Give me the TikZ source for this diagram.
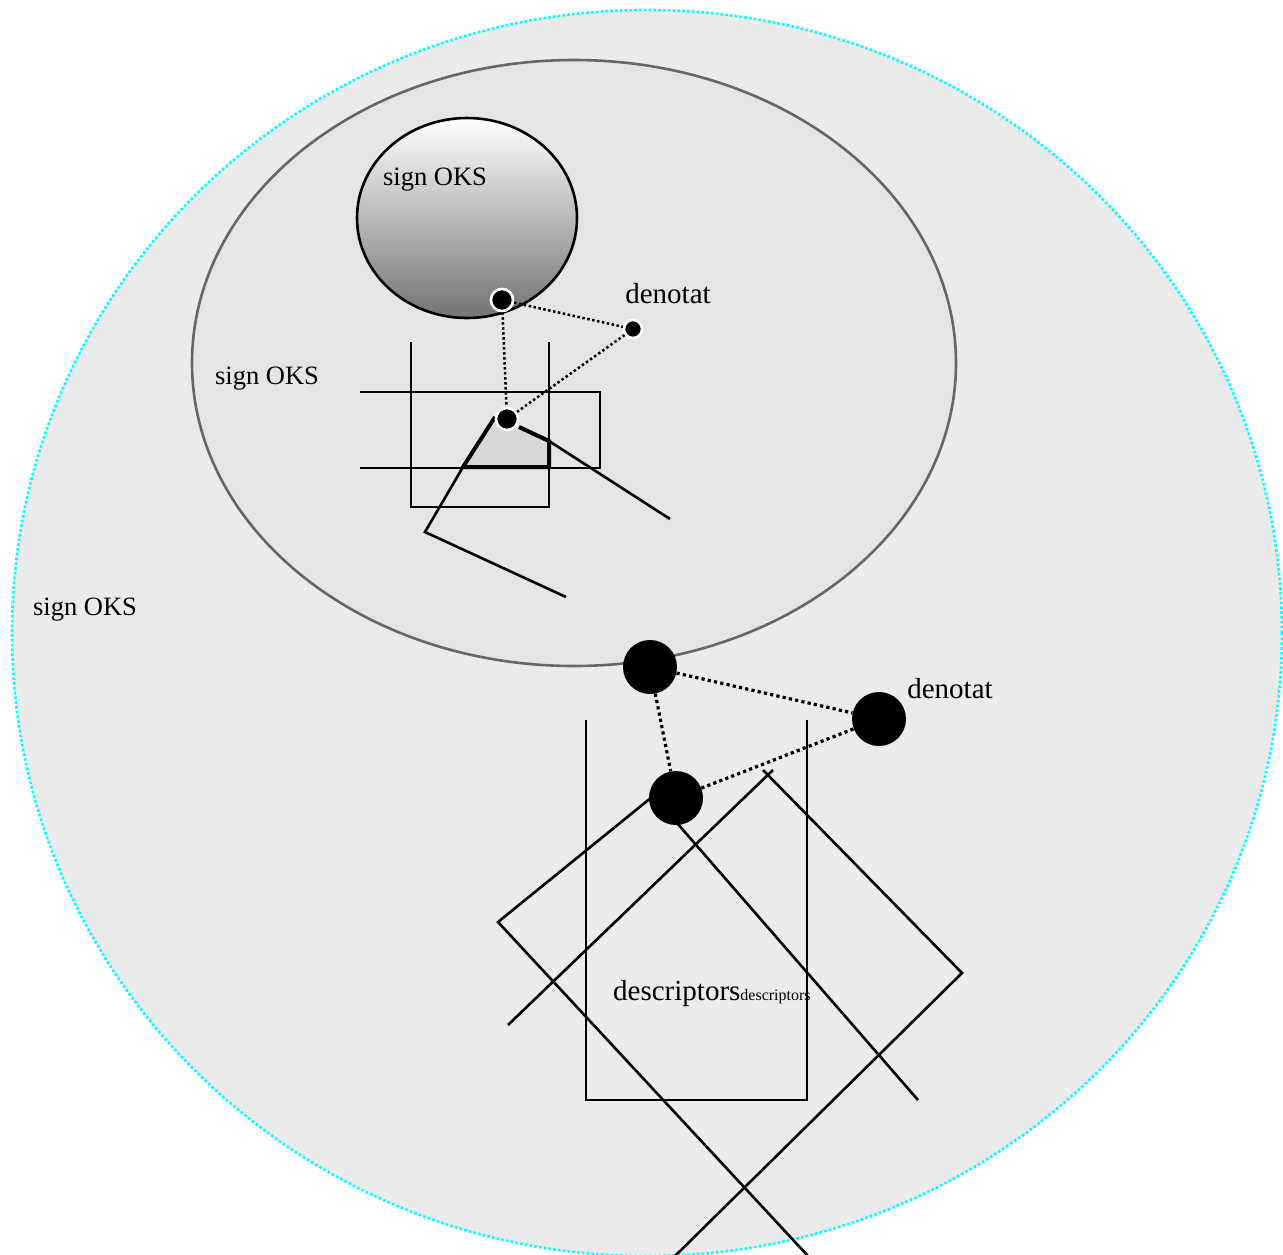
\documentclass[tikz,border=0pt]{standalone}
\usepackage{fontspec}
\setmainfont{Liberation Serif}
\definecolor{outerfill}{HTML}{EBEBEB}
\definecolor{innerfill}{HTML}{E5E5E5}
\definecolor{rimgray}{HTML}{666666}
\definecolor{wedgegray}{HTML}{D8D8D8}
\definecolor{ringcyan}{HTML}{00FFFF}

\begin{document}
\begin{tikzpicture}[x=1pt,y=-1pt,
    smalldot/.style={circle,fill=black,draw=white,line width=2.5pt,inner sep=0pt,minimum size=21pt},
    bigdot/.style={circle,fill=black,inner sep=0pt,minimum size=54pt},
    finedots/.style={dash pattern=on 2.5pt off 2.5pt,line width=2.5pt},
    coarsedots/.style={dash pattern=on 3.2pt off 3.2pt,line width=3.2pt},
    stroke/.style={line width=2.6pt,black},
    signtext/.style={font=\fontsize{26.5}{30}\selectfont,inner sep=0pt},
    bigtext/.style={font=\fontsize{29}{33}\selectfont,inner sep=0pt}]
        \useasboundingbox (0,0) rectangle (1283,1254);
        % outer and inner fields
        \draw[fill=outerfill,draw=ringcyan,line width=2.6pt,dash pattern=on 2.6pt off 2.2pt] (647,633) ellipse [x radius=635pt, y radius=623pt];
        \draw[fill=innerfill,draw=rimgray,line width=2.6pt] (574,363) ellipse [x radius=382pt, y radius=303pt];
        \shade[top color=white,bottom color=black!55] (467,218) ellipse [x radius=110pt, y radius=100pt];
        \draw[stroke] (467,218) ellipse [x radius=110pt, y radius=100pt];
        % small figure
        \draw[stroke] (411,342) -- (411,507) -- (549,507) -- (549,342);
        \draw[stroke] (360,392) -- (600,392) -- (600,468) -- (360,468);
        \fill[wedgegray] (495,417) -- (463,467) -- (549,467) -- (549,441) -- (519,427) -- cycle;
        \draw[line width=4pt] (495,417) -- (463,467) -- (549,467) -- (549,441) -- (519,427);
        \draw[stroke] (463,467) -- (425,532) -- (566,597);
        \draw[stroke] (549,441) -- (670,519);
        \node[smalldot,minimum size=22pt](a)at(502,300){};
        \node[smalldot,minimum size=18pt](b)at(633,329){};
        \node[smalldot,minimum size=22pt](c)at(507,419){};
        \draw[finedots] (a) -- (b);
        \draw[finedots] (a) -- (c);
        \draw[finedots] (b) -- (c);
        \node[smalldot,minimum size=22pt]at(a){};
        \node[smalldot,minimum size=18pt]at(b){};
        \node[smalldot,minimum size=22pt]at(c){};
        % large figure
        \draw[stroke] (586,720) -- (586,1100) -- (807,1100) -- (807,720);
        \draw[stroke] (652,797) -- (498,922) -- (808,1256);
        \draw[stroke] (508,1025) -- (773,770);
        \draw[stroke] (763,770) -- (962,973) -- (675,1256);
        \draw[stroke] (657,800) -- (918,1100);
        \node[bigdot](p)at(650,667){};
        \node[bigdot](q)at(879,719){};
        \node[bigdot](r)at(676,798){};
        \draw[coarsedots] (p) -- (q);
        \draw[coarsedots] (p) -- (r);
        \draw[coarsedots] (r) -- (q);
        % texts
        \node[signtext](t1)at(435,180){sign OKS};
        \node[signtext](t2)at(267,379){sign OKS};
        \node[signtext](t3)at(85,610){sign OKS};
        \node[bigtext](t4)at(668,294){denotat};
        \node[bigtext](t5)at(950,689){denotat};
        \node[bigtext,anchor=base west](t6)at(613,1000){descriptors{\fontsize{16}{18}\selectfont descriptors}};
    \end{tikzpicture}
\end{document}
